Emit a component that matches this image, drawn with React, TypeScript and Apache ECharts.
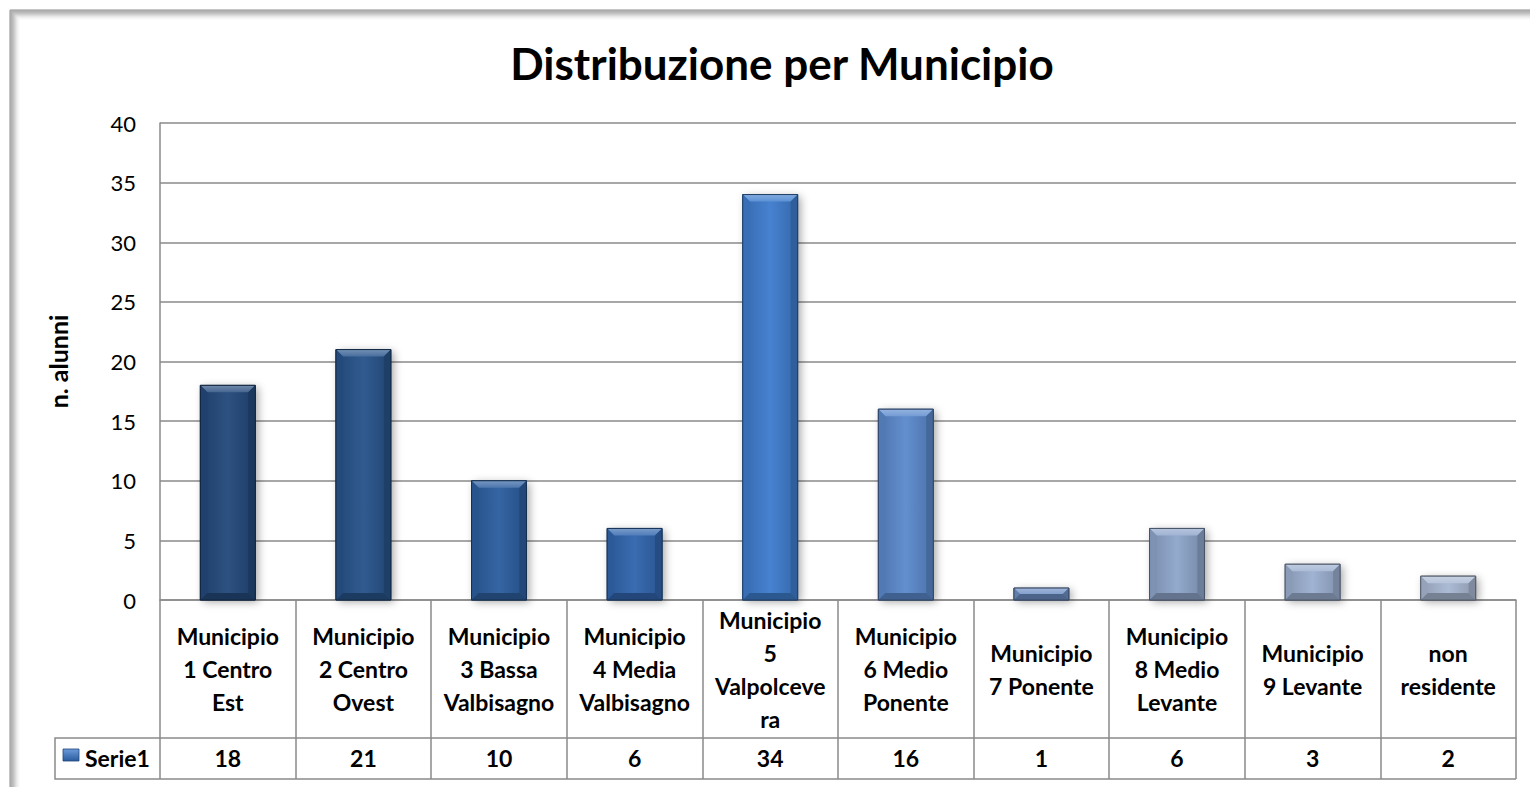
import React, { useEffect, useRef } from "react";
import * as echarts from "echarts";

const TITLE = "Distribuzione per Municipio";
const Y_NAME = "n. alunni";
const SERIES_NAME = "Serie1";
const categories = [
  "Municipio\n1 Centro\nEst",
  "Municipio\n2 Centro\nOvest",
  "Municipio\n3 Bassa\nValbisagno",
  "Municipio\n4 Media\nValbisagno",
  "Municipio\n5\nValpolceve\nra",
  "Municipio\n6 Medio\nPonente",
  "Municipio\n7 Ponente",
  "Municipio\n8 Medio\nLevante",
  "Municipio\n9 Levante",
  "non\nresidente",
];
const values = [18, 21, 10, 6, 34, 16, 1, 6, 3, 2];
const barColors = [
  "#244A7C", "#28548B", "#2D5FA0", "#3266AE", "#3F7DCE",
  "#5C8ACD", "#6D8FC4", "#8FA6CB", "#9CB0D0", "#A9B8D2",
];
const yTicks = { min: 0, max: 40, interval: 5 };

const FONT = "Lato, 'Open Sans', sans-serif";
const GRID_COLOR = "#8a8a8a";

function hexToRgb(h: string) {
  const n = parseInt(h.slice(1), 16);
  return [(n >> 16) & 255, (n >> 8) & 255, n & 255];
}
function mix(h: string, target: string, t: number) {
  const a = hexToRgb(h);
  const b = hexToRgb(target);
  const c = a.map((v, i) => Math.round(v + (b[i] - v) * t));
  return "rgb(" + c.join(",") + ")";
}

export default function App() {
  const ref = useRef<HTMLDivElement>(null);
  useEffect(() => {
    if (!ref.current) return;
    const chart = echarts.init(ref.current, undefined, { renderer: "svg" });

    const frame: any[] = [];
    const frameCols = ["#8c8c8c", "#939393", "#9b9b9b", "#a6a6a6", "#b4b4b4", "#c4c4c4", "#d4d4d4", "#e2e2e2", "#eeeeee", "#f7f7f7"];
    frameCols.forEach((c, i) => {
      frame.push({
        type: "polyline",
        silent: true,
        z: -10,
        shape: { points: [[10 + i, 800], [10 + i, 10 + i], [1540, 10 + i]] },
        style: { stroke: c, lineWidth: 1, fill: null },
      });
    });

    const renderItem = (params: any, api: any) => {
      const idx = api.value(0);
      const v = api.value(1);
      const top = api.coord([idx, v]);
      const base = api.coord([idx, 0]);
      const bw = api.size([1, 0])[0] * 0.405;
      const x0 = top[0] - bw / 2;
      const x1 = top[0] + bw / 2;
      const y0 = top[1];
      const y1 = base[1];
      const h = y1 - y0;
      const b = Math.min(7, h / 2);
      const c = barColors[params.dataIndex % barColors.length];
      return {
        type: "group",
        children: [
          {
            type: "rect",
            shape: { x: x0, y: y0, width: bw, height: h },
            style: {
              fill: c,
              shadowBlur: 8,
              shadowOffsetX: 3,
              shadowOffsetY: 2,
              shadowColor: "rgba(0,0,0,0.35)",
            },
          },
          {
            type: "rect",
            shape: { x: x0, y: y0, width: bw, height: h },
            style: {
              fill: {
                type: "linear", x: 0, y: 0, x2: 1, y2: 0,
                colorStops: [
                  { offset: 0, color: mix(c, "#000000", 0.15) },
                  { offset: 0.5, color: mix(c, "#ffffff", 0.04) },
                  { offset: 1, color: mix(c, "#000000", 0.18) },
                ],
              },
              stroke: mix(c, "#000000", 0.45),
              lineWidth: 1,
            },
          },
          {
            type: "polygon",
            shape: { points: [[x0, y0], [x1, y0], [x1 - b, y0 + b], [x0 + b, y0 + b]] },
            style: {
              fill: {
                type: "linear", x: 0, y: 0, x2: 0, y2: 1,
                colorStops: [
                  { offset: 0, color: mix(c, "#ffffff", 0.35) },
                  { offset: 1, color: mix(c, "#ffffff", 0.15) },
                ],
              },
            },
          },
          {
            type: "polygon",
            shape: { points: [[x0, y0], [x0 + b, y0 + b], [x0 + b, y1 - b], [x0, y1]] },
            style: { fill: mix(c, "#000000", 0.12) },
          },
          {
            type: "polygon",
            shape: { points: [[x1, y0], [x1 - b, y0 + b], [x1 - b, y1 - b], [x1, y1]] },
            style: { fill: mix(c, "#000000", 0.25) },
          },
          {
            type: "polygon",
            shape: { points: [[x0, y1], [x0 + b, y1 - b], [x1 - b, y1 - b], [x1, y1]] },
            style: { fill: mix(c, "#000000", 0.3) },
          },
          {
            type: "rect",
            shape: { x: x0, y: y0, width: bw, height: h },
            style: { fill: null, stroke: mix(c, "#000000", 0.5), lineWidth: 1 },
          },
        ],
      };
    };

    chart.setOption({
      animation: false,
      backgroundColor: "#ffffff",
      title: {
        text: TITLE,
        left: 777,
        top: 36,
        textAlign: "center",
        textStyle: { fontFamily: FONT, fontWeight: "bold", fontSize: 44, color: "#000" },
      },
      grid: { left: 160, right: 14, top: 123, bottom: 187, outerBoundsMode: "none" },
      xAxis: [
        {
          type: "category",
          data: categories,
          position: "bottom",
          axisLine: { show: true, lineStyle: { color: GRID_COLOR, width: 1.5 } },
          axisTick: { show: true, length: 179, alignWithLabel: false, lineStyle: { color: GRID_COLOR, width: 1.5 } },
          axisLabel: {
            interval: 0,
            margin: 69,
            verticalAlign: "middle",
            lineHeight: 33,
            fontFamily: FONT,
            fontWeight: "bold",
            fontSize: 23,
            color: "#000",
          },
          splitLine: { show: false },
        },
        {
          type: "category",
          data: values.map(String),
          position: "bottom",
          offset: 138,
          axisLine: { show: true, lineStyle: { color: GRID_COLOR, width: 1.5 } },
          axisTick: { show: false },
          axisLabel: {
            interval: 0,
            margin: 20,
            verticalAlign: "middle",
            fontFamily: FONT,
            fontWeight: "bold",
            fontSize: 23,
            color: "#000",
          },
          splitLine: { show: false },
        },
      ],
      yAxis: {
        type: "value",
        min: yTicks.min,
        max: yTicks.max,
        interval: yTicks.interval,
        name: Y_NAME,
        nameLocation: "middle",
        nameGap: 90,
        nameTextStyle: { fontFamily: FONT, fontWeight: "bold", fontSize: 25, color: "#000" },
        axisLine: { show: true, lineStyle: { color: GRID_COLOR, width: 1.5 } },
        axisTick: { show: false },
        axisLabel: { margin: 24, fontFamily: FONT, fontSize: 22, color: "#000" },
        splitLine: { show: true, lineStyle: { color: GRID_COLOR, width: 1.5 } },
      },
      graphic: [
        ...frame,
        {
          type: "polyline",
          silent: true,
          shape: { points: [[160, 738], [55, 738], [55, 779], [1516, 779]] },
          style: { stroke: GRID_COLOR, lineWidth: 1.5, fill: null },
        },
        {
          type: "rect",
          silent: true,
          shape: { x: 63, y: 749, width: 16, height: 12 },
          style: {
            fill: {
              type: "linear", x: 0, y: 0, x2: 0, y2: 1,
              colorStops: [
                { offset: 0, color: "#6C9BDA" },
                { offset: 1, color: "#2A5B9E" },
              ],
            },
            stroke: "#1f4578",
            lineWidth: 0.8,
          },
        },
        {
          type: "text",
          silent: true,
          x: 85,
          y: 758,
          style: {
            text: SERIES_NAME,
            fontFamily: FONT,
            fontWeight: "bold",
            fontSize: 23,
            fill: "#000",
            verticalAlign: "middle",
            align: "left",
          },
        },
      ],
      series: [
        {
          type: "custom",
          name: SERIES_NAME,
          renderItem,
          data: values.map((v, i) => [i, v]),
          encode: { x: 0, y: 1 },
          clip: false,
        },
      ],
    });
    return () => chart.dispose();
  }, []);
  return (
    <div
      ref={ref}
      style={{ position: "fixed", left: 0, top: 0, width: 1530, height: 787 }}
    />
  );
}
